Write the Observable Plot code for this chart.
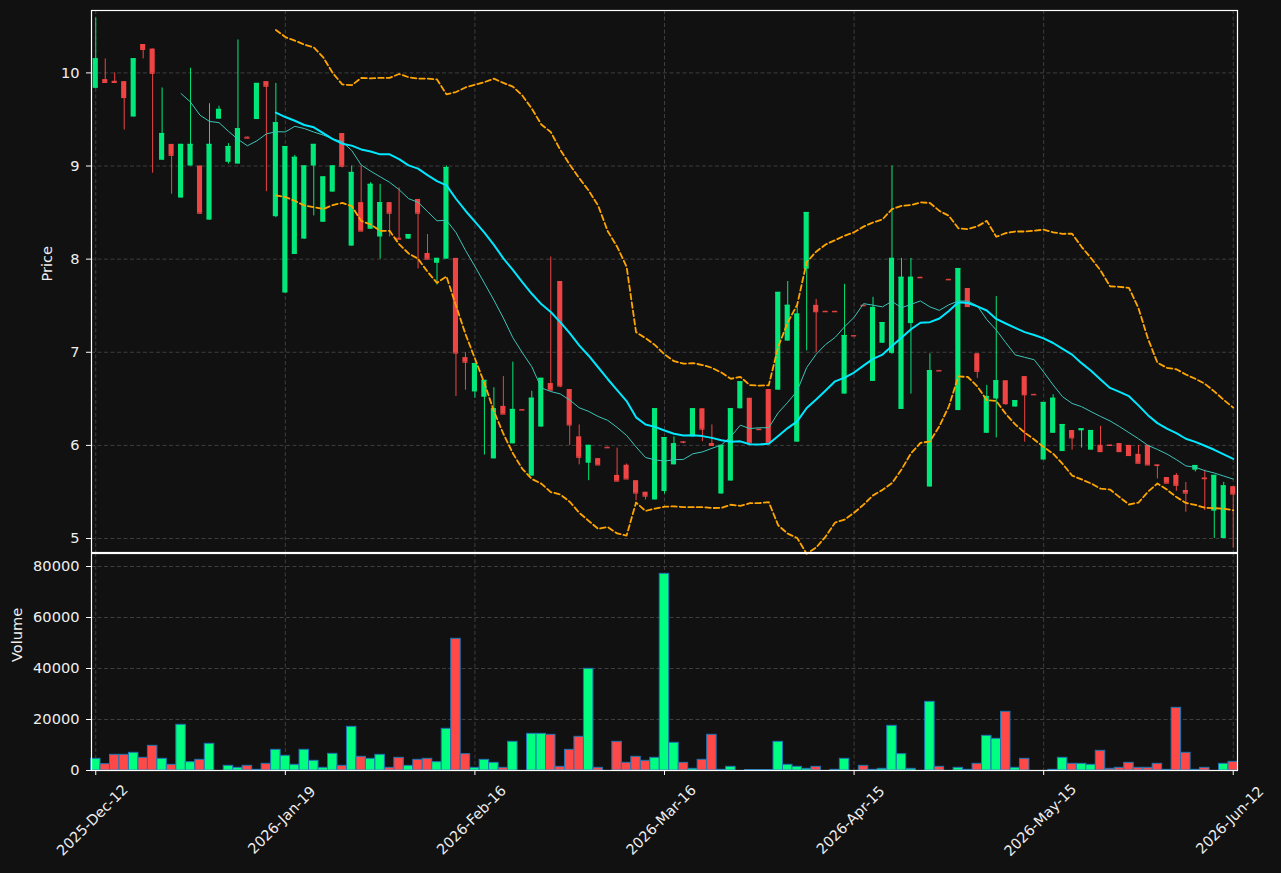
<!DOCTYPE html>
<html><head><meta charset="utf-8">
<script src="https://cdn.jsdelivr.net/npm/d3@7"></script>
<script src="https://cdn.jsdelivr.net/npm/@observablehq/plot@0.6"></script>
<style>
html,body{margin:0;padding:0;background:#111111;}
#chart{position:relative;width:1281px;height:873px;background:#111111;overflow:hidden;}
#chart svg{position:absolute;left:0;}
</style></head><body><div id="chart"></div>
<script>
// ---- data ----
const openP = [9.834,9.928,9.91,9.906,9.526,10.305,10.256,9.062,9.232,8.656,9.0,9.0,8.419,9.503,9.04,9.021,9.31,9.499,9.906,8.456,
7.636,8.05,8.215,9.0,8.396,8.72,9.349,8.14,8.607,8.321,8.238,8.607,8.225,8.215,8.641,8.061,7.956,8.0,8.008,6.943,
6.574,6.517,5.855,6.419,6.017,6.386,5.67,6.197,6.664,7.76,6.6,6.092,5.809,5.858,5.98,5.678,5.787,5.621,5.497,5.414,
5.505,5.791,6.04,6.092,6.393,6.02,5.478,5.617,6.393,6.506,6.175,6.6,6.593,7.12,6.035,7.892,7.504,7.44,7.44,6.551,
7.18,7.505,6.687,7.097,6.988,6.386,7.308,7.805,5.553,6.805,7.783,6.374,7.685,6.984,6.13,6.498,6.694,6.412,6.739,6.548,
5.843,6.13,5.934,6.16,6.156,5.949,6.001,6.004,6.02,6.0,5.904,6.0,5.791,5.655,5.678,5.516,5.734,5.65,5.294,5.0,5.557];
const highP = [10.59,10.15,10.0,9.906,10.151,10.305,10.256,9.838,9.232,9.232,10.05,9.0,9.669,9.642,9.24,10.354,9.31,9.887,9.906,9.887,
9.209,9.115,9.0,9.232,8.882,9.0,9.349,9.0,9.0,8.822,8.803,8.607,8.765,8.264,8.641,8.264,8.008,9.0,8.008,6.996,
6.879,6.698,6.619,6.739,6.894,6.386,6.581,6.72,8.023,7.76,6.6,6.22,6.0,5.858,5.98,5.971,5.8,5.621,5.497,6.393,
6.084,6.092,6.04,6.393,6.393,6.22,6.0,6.393,6.683,6.506,6.175,6.6,7.643,7.76,7.504,8.501,7.568,7.44,7.44,7.73,
7.18,7.505,7.59,7.319,9.0,8.008,8.008,7.805,6.984,6.805,7.783,7.899,7.685,6.984,6.645,7.598,6.694,6.48,6.739,6.548,
6.461,6.544,6.224,6.16,6.178,6.16,6.205,6.004,6.02,6.0,6.0,6.0,5.791,5.655,5.697,5.602,5.784,5.734,5.678,5.602,5.557];
const lowP = [9.83,9.898,9.898,9.386,9.526,10.15,8.923,9.062,8.697,8.656,9.0,8.483,8.419,9.503,9.021,9.021,9.30,9.499,8.724,8.445,
7.636,8.05,8.215,8.464,8.396,8.72,8.98,8.14,8.302,8.321,8.0,8.238,8.21,8.215,7.895,8.0,7.722,8.0,6.525,6.593,
6.506,5.896,5.855,6.337,6.017,6.38,5.67,6.197,6.593,6.619,6.0,5.791,5.621,5.791,5.975,5.617,5.64,5.407,5.414,5.414,
5.478,5.791,6.017,6.092,6.04,6.0,5.478,5.617,6.393,6.028,6.17,6.028,6.593,7.12,6.035,7.014,6.996,7.436,7.436,6.551,
7.176,7.5,6.687,7.097,6.977,6.386,6.551,7.801,5.553,6.8,7.779,6.374,7.492,6.72,6.13,6.081,6.43,6.412,6.035,6.544,
5.843,6.13,5.934,5.949,5.971,5.949,5.934,6.0,5.934,5.892,5.809,5.791,5.64,5.595,5.508,5.282,5.715,5.3,5.0,5.0,4.895];
const closeP = [10.151,9.898,9.898,9.736,10.151,10.252,9.996,9.349,9.115,9.232,9.232,8.494,9.232,9.608,9.209,9.401,9.30,9.887,9.857,9.465,
9.209,9.093,9.0,9.232,8.882,9.0,8.998,8.931,8.302,8.803,8.607,8.494,8.215,8.264,8.494,8.0,8.008,8.983,6.992,6.894,
6.879,6.698,6.393,6.337,6.386,6.38,6.506,6.72,6.593,6.638,6.22,5.873,6.0,5.791,5.975,5.617,5.64,5.489,5.456,6.393,
6.084,6.017,6.035,6.393,6.175,6.0,6.0,6.393,6.683,6.028,6.17,6.028,7.643,7.504,7.41,8.501,7.436,7.436,7.436,7.18,
7.176,7.5,7.481,7.319,8.008,7.805,7.805,7.801,6.803,6.8,7.779,7.899,7.492,6.796,6.525,6.694,6.449,6.48,6.544,6.544,
6.461,6.506,6.224,6.081,6.178,6.16,5.934,6.0,5.934,5.892,5.809,5.791,5.785,5.595,5.572,5.489,5.784,5.643,5.678,5.565,5.478];
const volumes = [4575,2484,6144,6144,6928,4967,9673,4575,2222,17908,3268,4183,10458,0,1830,1046,1830,260,2614,8105,
5752,2222,8105,3791,1046,6536,1830,17124,5359,4575,6144,1046,4967,1830,4183,4575,3268,16340,51634,6405,
1046,4183,3007,1046,11242,0,14379,14379,13987,1438,8105,13203,39869,1046,0,11242,3007,5359,3791,4967,
77124,10850,3007,654,4183,13987,260,1438,0,200,200,200,11242,2222,1438,654,1438,0,260,4575,
0,1830,260,654,17516,6405,654,0,26928,1438,0,1046,260,2614,13595,12418,23007,1046,4575,0,
0,260,4967,2614,2614,2222,7712,654,1046,3007,1046,1046,2614,260,24575,6928,260,1046,0,2614,3399];
const tickIdx = [0,20,40,60,80,100,120];
const tickLabels = ["2025-Dec-12","2026-Jan-19","2026-Feb-16","2026-Mar-16","2026-Apr-15","2026-May-15","2026-Jun-12"];
const priceTicks = [5,6,7,8,9,10];
const volumeTicks = [0,20000,40000,60000,80000];

// ---- styling ----
const font = "'DejaVu Sans', sans-serif";
const upC = "#00e87a", downC = "#ee4444";
const upV = "#00ff80", downV = "#ff4848";
const gridC = "#3e3e3e";
const textC = "#eeeeee";
const xDomain = [-0.45, 120.45];
const bw = 0.27;

const data = closeP.map((c, i) => ({
  i, open: openP[i], high: highP[i], low: lowP[i], close: c, volume: volumes[i], up: c >= openP[i]
}));

const band = (sign) => (v) => d3.mean(v) + sign * 2 * d3.deviation(v);

const price = Plot.plot({
  width: 1281, height: 553,
  marginLeft: 91, marginRight: 44, marginTop: 10, marginBottom: 1,
  style: {background: "transparent", color: textC, fontFamily: font, fontSize: "14.6px", overflow: "visible"},
  x: {domain: xDomain, axis: null},
  y: {domain: [4.85, 10.67]},
  marks: [
    Plot.gridY(priceTicks, {stroke: gridC, strokeOpacity: 1, strokeDasharray: "4,2.5"}),
    Plot.gridX(tickIdx, {stroke: gridC, strokeOpacity: 1, strokeDasharray: "4,2.5"}),
    Plot.ruleX(data, {x: "i", y1: "low", y2: "high", stroke: d => d.up ? upC : downC, strokeWidth: 1}),
    Plot.rect(data, {x1: d => d.i - bw, x2: d => d.i + bw, y1: "open", y2: "close", fill: d => d.up ? upC : downC}),
    Plot.ruleY(data, {y: "close", x1: d => d.i - bw, x2: d => d.i + bw, stroke: d => d.up ? upC : downC, strokeWidth: 1.2}),
    Plot.lineY(data, Plot.windowY({k: 20, anchor: "end", strict: true, reduce: band(1)}, {x: "i", y: "close", stroke: "#ffa500", strokeWidth: 1.8, strokeDasharray: "5.5,3"})),
    Plot.lineY(data, Plot.windowY({k: 20, anchor: "end", strict: true, reduce: band(-1)}, {x: "i", y: "close", stroke: "#ffa500", strokeWidth: 1.8, strokeDasharray: "5.5,3"})),
    Plot.lineY(data, Plot.windowY({k: 10, anchor: "end", strict: true, reduce: "mean"}, {x: "i", y: "close", stroke: "#3cc4b8", strokeWidth: 1})),
    Plot.lineY(data, Plot.windowY({k: 20, anchor: "end", strict: true, reduce: "mean"}, {x: "i", y: "close", stroke: "#00e8ff", strokeWidth: 2})),
    Plot.axisY(priceTicks, {tickSize: 5, tickPadding: 7, label: null, tickFormat: d => String(d), stroke: "#ffffff"}),
    Plot.frame({stroke: "#ffffff", strokeWidth: 1.2}),
    Plot.text(["Price"], {frameAnchor: "left", dx: -44, rotate: -90, fontSize: 14.6, fill: textC})
  ]
});
price.style.top = "0px";

const vol = Plot.plot({
  width: 1281, height: 320,
  marginLeft: 91, marginRight: 44, marginTop: 0, marginBottom: 103,
  style: {background: "transparent", color: textC, fontFamily: font, fontSize: "14.6px", overflow: "visible"},
  x: {domain: xDomain, axis: null},
  y: {domain: [0, 85100]},
  marks: [
    Plot.gridY(volumeTicks, {stroke: gridC, strokeOpacity: 1, strokeDasharray: "4,2.5"}),
    Plot.gridX(tickIdx, {stroke: gridC, strokeOpacity: 1, strokeDasharray: "4,2.5"}),
    Plot.rectY(data, {x1: d => d.i - 0.5, x2: d => d.i + 0.5, y: "volume", fill: d => d.up ? upV : downV, stroke: "#1f77b4", strokeWidth: 1}),
    Plot.axisY(volumeTicks, {tickSize: 5, tickPadding: 7, label: null, tickFormat: d => String(d), stroke: "#ffffff"}),
    Plot.axisX(tickIdx, {anchor: "bottom", tickSize: 5, tickFormat: () => "", label: null, stroke: "#ffffff"}),
    Plot.text(tickIdx, {x: d => d, text: (d, k) => tickLabels[k], frameAnchor: "bottom", dy: 53, rotate: -45, textAnchor: "middle", fontSize: 14.4, fill: textC}),
    Plot.frame({stroke: "#ffffff", strokeWidth: 1.2}),
    Plot.text(["Volume"], {frameAnchor: "left", dx: -74, rotate: -90, fontSize: 14.6, fill: textC})
  ]
});
vol.style.top = "553px";

const chart = document.getElementById("chart");
chart.appendChild(price);
chart.appendChild(vol);
</script>
</body></html>
